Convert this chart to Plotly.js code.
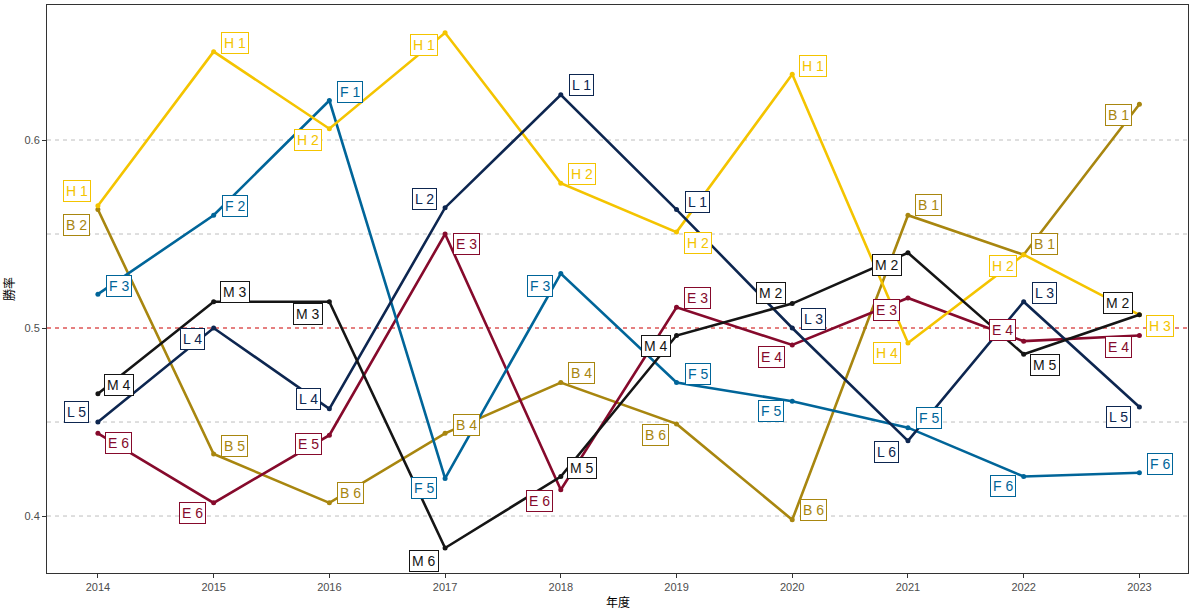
<!DOCTYPE html>
<html><head><meta charset="utf-8">
<script src="https://cdn.plot.ly/plotly-3.0.1.min.js"></script>
<style>html,body{margin:0;padding:0;background:#fff}#chart{width:1200px;height:612px}</style>
</head><body><div id="chart"></div>
<script>
const years = [2014,2015,2016,2017,2018,2019,2020,2021,2022,2023];
const teams = ['B','E','F','H','L','M'];
const winB = [0.563,0.433,0.407,0.444,0.471,0.449,0.398,0.560,0.539,0.619];
const winE = [0.444,0.407,0.443,0.550,0.414,0.511,0.491,0.516,0.493,0.496];
const winF = [0.518,0.560,0.621,0.420,0.529,0.471,0.461,0.447,0.421,0.423];
const winH = [0.565,0.647,0.606,0.657,0.577,0.551,0.635,0.492,0.539,0.507];
const winL = [0.450,0.500,0.457,0.564,0.624,0.563,0.500,0.440,0.514,0.458];
const winM = [0.465,0.514,0.514,0.383,0.421,0.496,0.513,0.540,0.486,0.507];
const rankB = [2,5,6,4,4,6,6,1,1,1];
const rankE = [6,6,5,3,6,3,4,3,4,4];
const rankF = [3,2,1,5,3,5,5,5,6,6];
const rankH = [1,1,2,1,2,2,1,4,2,3];
const rankL = [5,4,4,2,1,1,3,6,3,5];
const rankM = [4,3,3,6,5,4,2,2,5,2];
const yTicks = [0.4,0.5,0.6];
const yGrid = [0.4,0.45,0.55,0.6];
const refLine = 0.5;

// label placement (pixel shifts, styling only)
const shiftX = {
  B:[-1,1,1,1,1,-1,1,1,1,-1],
  E:[1,-1,-1,1,-1,1,-1,-1,-1,-1],
  F:[1,1,1,-1,-1,1,-1,1,-1,1],
  H:[-1,1,-1,-1,1,1,1,-1,-1,1],
  L:[-1,-1,-1,-1,1,1,1,-1,1,-1],
  M:[1,1,-1,-1,1,-1,-1,-1,1,-1]
};
const shiftY = {
  B:[-15,8,10,8,10,-11,10,10,11,-11],
  E:[-10,-10,-9,-10,-11,9,-12,-12,11,-11],
  F:[8,9,9,-10,-13,9,-10,10,-9,9],
  H:[15,9,-11,-12,9,-11,8,-10,-11,-11],
  L:[10,-11,10,9,10,8,9,-11,9,-10],
  M:[9,10,-12,-13,9,-10,11,-12,-11,12]
};
const colors = {B:'#A8860F', E:'#860A2C', F:'#006599', H:'#F4C400', L:'#0D2650', M:'#151515'};

const wins = {B:winB,E:winE,F:winF,H:winH,L:winL,M:winM};
const ranks = {B:rankB,E:rankE,F:rankF,H:rankH,L:rankL,M:rankM};

const traces = teams.map(t => ({
  x: years, y: wins[t], type:'scatter', mode:'lines+markers', name:t,
  line:{color:colors[t], width:2.6}, marker:{color:colors[t], size:5},
  hoverinfo:'skip', showlegend:false
}));

const annotations = [];
teams.forEach(t => {
  years.forEach((yr,i) => {
    annotations.push({
      x: yr, y: wins[t][i], xref:'x', yref:'y',
      text: t + ' ' + ranks[t][i], showarrow:false,
      xshift: shiftX[t][i]*21, yshift: shiftY[t][i],
      font:{family:'Liberation Sans, Arial, sans-serif', size:14, color:colors[t]},
      bgcolor:'#ffffff', bordercolor:colors[t], borderwidth:1, borderpad:2
    });
  });
});
annotations.push({
  text:'年度', xref:'paper', yref:'paper', x:0.5, y:0, yshift:-28, showarrow:false,
  yanchor:'middle', font:{family:'Noto Sans CJK JP, sans-serif', size:12, color:'#000'}
});

const shapes = yGrid.map(v => ({type:'line', xref:'paper', x0:0, x1:1, yref:'y', y0:v, y1:v,
  line:{color:'#BEBEBE', width:1, dash:'4px,4px'}, layer:'below'}));
shapes.push({type:'line', xref:'paper', x0:0, x1:1, yref:'y', y0:refLine, y1:refLine,
  line:{color:'#CC0000', width:1, dash:'4px,4px'}, layer:'below'});

const layout = {
  width:1200, height:612,
  margin:{l:47, r:12, t:5, b:39},
  paper_bgcolor:'#fff', plot_bgcolor:'#fff',
  showlegend:false,
  xaxis:{
    range:[2013.56, 2023.42], tickvals: years, ticktext: years.map(String),
    showgrid:false, zeroline:false, showline:true, mirror:true, linecolor:'#333', linewidth:1,
    ticks:'outside', ticklen:4, tickcolor:'#333', tickwidth:1,
    tickfont:{family:'Liberation Sans, Arial, sans-serif', size:11, color:'#4D4D4D'}
  },
  yaxis:{
    range:[0.3697, 0.6718], tickvals:yTicks, ticktext:yTicks.map(v => v.toFixed(1)),
    showgrid:false, zeroline:false, showline:true, mirror:true, linecolor:'#333', linewidth:1,
    ticks:'outside', ticklen:4, tickcolor:'#333', tickwidth:1,
    tickfont:{family:'Liberation Sans, Arial, sans-serif', size:11, color:'#4D4D4D'},
    title:{text:'勝率', font:{family:'Noto Sans CJK JP, sans-serif', size:12, color:'#000'}, standoff:8}
  },
  shapes: shapes,
  annotations: annotations
};
Plotly.newPlot('chart', traces, layout, {displayModeBar:false, staticPlot:true});
</script></body></html>
